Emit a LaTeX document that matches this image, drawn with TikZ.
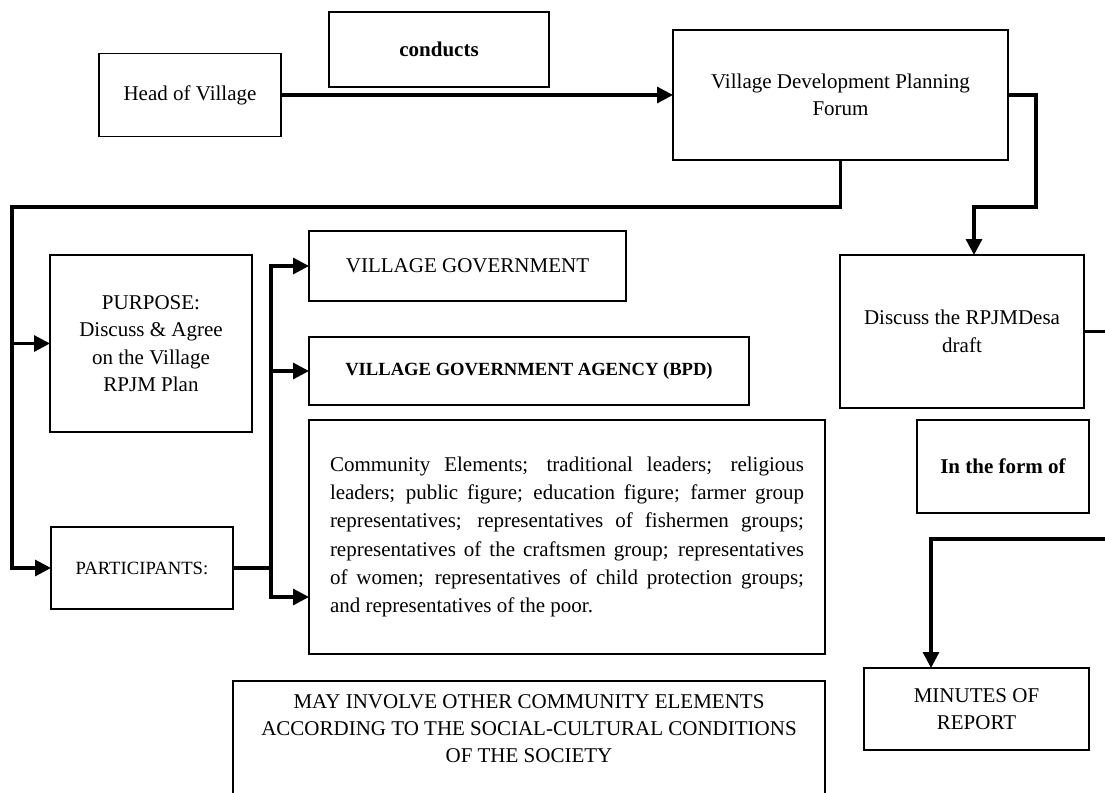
\documentclass[tikz,border=0pt]{standalone}
\usepackage{fontspec}
\setmainfont{Liberation Serif}
\usetikzlibrary{arrows.meta}
\begin{document}
\begin{tikzpicture}[x=1pt,y=-1pt,
  box/.style={draw, line width=1.1pt, inner sep=0pt, outer sep=0pt, align=center,
    font=\fontsize{21}{27.5}\selectfont},
  txt/.style={inner sep=0pt, align=center, font=\fontsize{21}{27}\selectfont},
  conn/.style={line width=3.2pt},
  arr/.style={conn, -{Triangle[length=16pt,width=16pt]}},
]
\useasboundingbox (0,0) rectangle (1105,792);

\node[box, minimum width=182pt, minimum height=83pt] (head) at (190,95) {Head of Village};
\node[box, minimum width=220pt, minimum height=75pt, font=\fontsize{21}{27.5}\selectfont\bfseries] (cond) at (439,49.5) {conducts};
\node[box, minimum width=335pt, minimum height=130pt] (forum) at (840.5,95) {Village Development Planning\\Forum};
\node[box, minimum width=202pt, minimum height=177pt] (purpose) at (151,343.5) {PURPOSE:\\Discuss \& Agree\\on the Village\\RPJM Plan};
\node[box, minimum width=182pt, minimum height=82pt, font=\fontsize{18.7}{24}\selectfont] (part) at (142,568) {PARTICIPANTS:};
\node[box, minimum width=317pt, minimum height=70pt] (vg) at (467.5,266) {VILLAGE GOVERNMENT};
\node[box, minimum width=440pt, minimum height=68pt, font=\fontsize{18.6}{24}\selectfont\bfseries] (bpd) at (529,371) {VILLAGE GOVERNMENT AGENCY (BPD)};
\node[box, minimum width=516pt, minimum height=234pt, text width=474pt, align=justify,
  font=\fontsize{21}{28.3}\selectfont] (comm) at (567,537)
  {Community Elements; traditional leaders; religious\linebreak
   leaders; public figure; education figure; farmer group\linebreak
   representatives; representatives of fishermen groups;\linebreak
   representatives of the craftsmen group; representatives\linebreak
   of women; representatives of child protection groups;\linebreak
   and representatives of the poor.};
\node[box, minimum width=592pt, minimum height=115pt,
  label={[txt,yshift=9.5pt]center:{MAY INVOLVE OTHER COMMUNITY ELEMENTS\\ACCORDING TO THE SOCIAL-CULTURAL CONDITIONS\\OF THE SOCIETY}}] (may) at (529,738.5) {};
\node[box, minimum width=244pt, minimum height=153pt] (discuss) at (962,331.5) {Discuss the RPJMDesa\\draft};
\node[box, minimum width=172pt, minimum height=93pt, font=\fontsize{21}{27.5}\selectfont\bfseries] (form) at (1003,466.5) {In the form of};
\node[box, minimum width=225pt, minimum height=82pt] (minutes) at (976.5,709) {MINUTES OF\\REPORT};

% connector points
\coordinate (L1) at (12,207);
\coordinate (R1) at (1036,207);
\coordinate (B) at (271,568);
\coordinate (B3) at (271,597);
\coordinate (E1) at (1105,332);
\coordinate (E2) at (1105,539);

\draw[arr] (head.east) -- (forum.west);
\draw[arr] (forum.south) |- (L1) |- (part.west);
\draw[arr] (L1 |- purpose.west) -- (purpose.west);
\draw[arr] (forum.east) -| (R1) -| ([xshift=12pt]discuss.north);
\draw[conn] (discuss.east) -- (discuss.east -| E1);
\draw[arr] (E2) -| ([xshift=67pt]minutes.north west);
\draw[conn] (part.east) -- (B);
\draw[arr] (B) |- (vg.west);
\draw[arr] (B |- bpd.west) -- (bpd.west);
\draw[arr] (B) -- (B3) -- (B3 -| comm.west);
\end{tikzpicture}
\end{document}
